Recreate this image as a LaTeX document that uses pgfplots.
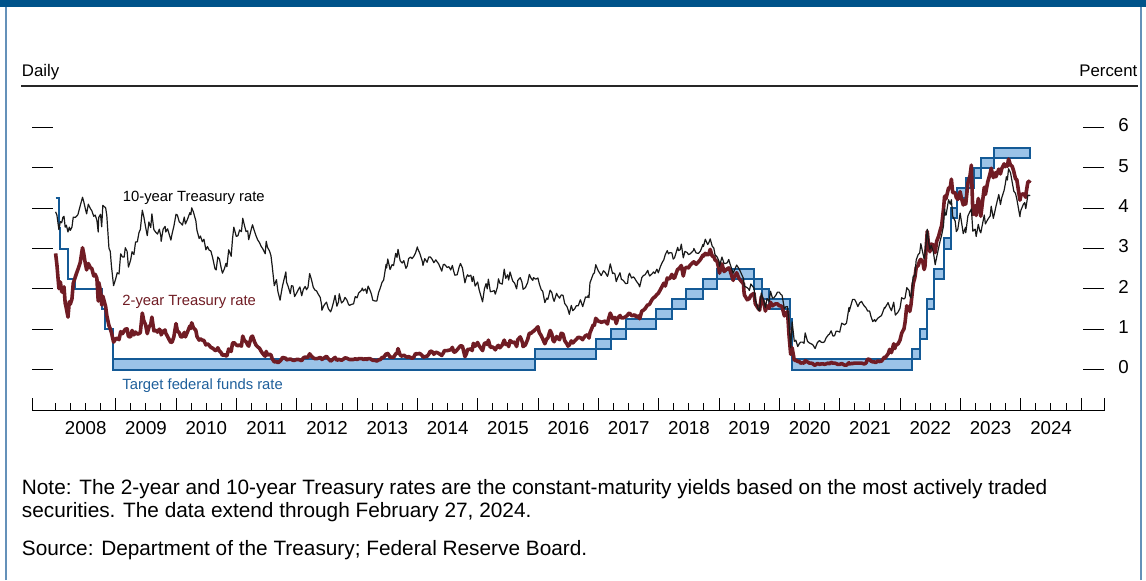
\documentclass[border=0pt]{standalone}
\usepackage{pgfplots}
\pgfplotsset{compat=1.18}
\usepgfplotslibrary{dateplot}
\usepackage{pgfplotstable}
\usepackage{fontspec}
\setmainfont{Liberation Sans}

\definecolor{topbar}{RGB}{0,83,138}
\definecolor{frame}{RGB}{100,145,185}
\definecolor{boxfill}{RGB}{155,195,232}
\definecolor{boxedge}{RGB}{20,90,150}
\definecolor{twored}{RGB}{112,28,36}
\definecolor{lblblue}{RGB}{30,95,155}

% daily Treasury yields, sampled roughly every ten days
\pgfplotstableread{
date ten two
2008-01-02 3.91 2.88
2008-01-10 3.83 2.60
2008-01-22 3.47 2.01
2008-01-31 3.67 2.17
2008-02-08 3.64 1.93
2008-02-15 3.77 1.92
2008-02-22 3.80 2.05
2008-02-29 3.53 1.65
2008-03-07 3.58 1.52
2008-03-17 3.41 1.30
2008-03-25 3.53 1.68
2008-03-31 3.45 1.62
2008-04-10 3.53 1.75
2008-04-18 3.78 2.14
2008-04-30 3.77 2.29
2008-05-08 3.80 2.39
2008-05-16 3.84 2.48
2008-05-30 4.06 2.65
2008-06-13 4.27 3.02
2008-06-20 4.17 2.88
2008-06-30 3.99 2.63
2008-07-08 3.86 2.47
2008-07-18 4.10 2.63
2008-07-31 3.99 2.52
2008-08-08 3.94 2.51
2008-08-20 3.80 2.32
2008-08-29 3.83 2.36
2008-09-08 3.70 2.26
2008-09-16 3.41 1.70
2008-09-19 3.77 2.16
2008-09-30 3.85 1.96
2008-10-07 3.54 1.60
2008-10-14 4.07 1.82
2008-10-31 4.01 1.56
2008-11-07 3.82 1.34
2008-11-20 3.01 1.09
2008-11-28 2.93 1.01
2008-12-05 2.57 0.92
2008-12-18 2.08 0.68
2008-12-31 2.25 0.76
2009-01-09 2.40 0.78
2009-01-20 2.37 0.74
2009-01-30 2.87 0.94
2009-02-10 2.79 0.89
2009-02-20 2.79 0.96
2009-02-27 3.02 1.00
2009-03-10 2.93 1.01
2009-03-18 2.54 0.82
2009-03-31 2.71 0.81
2009-04-09 2.92 0.97
2009-04-20 2.85 0.86
2009-04-30 3.16 0.93
2009-05-11 3.17 0.88
2009-05-21 3.40 0.89
2009-05-29 3.47 0.92
2009-06-10 3.95 1.40
2009-06-19 3.79 1.21
2009-06-30 3.53 1.11
2009-07-10 3.32 0.89
2009-07-20 3.66 1.05
2009-07-31 3.52 1.12
2009-08-07 3.86 1.30
2009-08-19 3.47 0.96
2009-08-31 3.40 0.97
2009-09-10 3.36 0.93
2009-09-21 3.48 1.00
2009-09-30 3.31 0.95
2009-10-02 3.18 0.86
2009-10-14 3.48 0.95
2009-10-26 3.55 0.98
2009-10-30 3.41 0.90
2009-11-10 3.49 0.82
2009-11-25 3.28 0.70
2009-11-30 3.21 0.67
2009-12-08 3.38 0.69
2009-12-18 3.55 0.81
2009-12-31 3.85 1.14
2010-01-08 3.83 0.96
2010-01-20 3.66 0.91
2010-01-29 3.63 0.81
2010-02-08 3.58 0.81
2010-02-19 3.78 0.92
2010-02-26 3.61 0.81
2010-03-10 3.72 0.93
2010-03-25 3.89 1.08
2010-03-31 3.84 1.02
2010-04-05 4.01 1.16
2010-04-15 3.91 1.04
2010-04-30 3.69 0.97
2010-05-07 3.45 0.82
2010-05-20 3.25 0.73
2010-05-28 3.31 0.76
2010-06-08 3.17 0.73
2010-06-18 3.23 0.72
2010-06-30 2.97 0.61
2010-07-09 3.05 0.64
2010-07-20 2.96 0.60
2010-07-30 2.94 0.55
2010-08-10 2.77 0.53
2010-08-24 2.50 0.48
2010-08-31 2.47 0.47
2010-09-10 2.79 0.54
2010-09-20 2.74 0.46
2010-09-30 2.53 0.42
2010-10-08 2.39 0.35
2010-10-20 2.50 0.37
2010-10-29 2.63 0.34
2010-11-04 2.55 0.34
2010-11-15 2.97 0.51
2010-11-30 2.81 0.45
2010-12-08 3.24 0.65
2010-12-16 3.53 0.67
2010-12-31 3.30 0.61
2011-01-10 3.32 0.59
2011-01-20 3.46 0.61
2011-01-31 3.42 0.58
2011-02-08 3.75 0.83
2011-02-18 3.58 0.72
2011-02-28 3.42 0.69
2011-03-10 3.44 0.61
2011-03-16 3.22 0.58
2011-03-31 3.47 0.80
2011-04-08 3.59 0.83
2011-04-20 3.43 0.69
2011-04-29 3.32 0.61
2011-05-10 3.21 0.56
2011-05-20 3.15 0.53
2011-05-31 3.05 0.45
2011-06-10 2.99 0.39
2011-06-24 2.87 0.33
2011-06-30 3.18 0.45
2011-07-08 3.03 0.36
2011-07-20 2.94 0.38
2011-07-29 2.82 0.36
2011-08-05 2.58 0.27
2011-08-18 2.08 0.19
2011-08-31 2.23 0.20
2011-09-09 1.93 0.17
2011-09-22 1.72 0.21
2011-09-30 1.92 0.25
2011-10-07 2.08 0.30
2011-10-27 2.42 0.28
2011-10-31 2.17 0.24
2011-11-10 2.06 0.25
2011-11-23 1.88 0.26
2011-11-30 2.08 0.25
2011-12-09 2.07 0.23
2011-12-19 1.81 0.23
2011-12-30 1.89 0.25
2012-01-10 1.98 0.25
2012-01-20 2.05 0.24
2012-01-31 1.83 0.22
2012-02-10 1.99 0.29
2012-02-21 2.06 0.31
2012-02-29 1.98 0.30
2012-03-09 2.04 0.31
2012-03-19 2.38 0.39
2012-03-30 2.23 0.33
2012-04-10 2.04 0.29
2012-04-20 1.97 0.27
2012-04-30 1.95 0.27
2012-05-10 1.87 0.28
2012-05-22 1.79 0.30
2012-05-31 1.59 0.27
2012-06-01 1.47 0.25
2012-06-15 1.60 0.29
2012-06-29 1.67 0.33
2012-07-10 1.51 0.27
2012-07-24 1.43 0.21
2012-07-31 1.51 0.23
2012-08-10 1.66 0.27
2012-08-20 1.84 0.30
2012-08-31 1.57 0.23
2012-09-10 1.68 0.25
2012-09-14 1.88 0.25
2012-09-28 1.65 0.23
2012-10-10 1.70 0.26
2012-10-19 1.79 0.29
2012-10-31 1.72 0.28
2012-11-09 1.62 0.26
2012-11-15 1.59 0.25
2012-11-30 1.62 0.25
2012-12-10 1.63 0.25
2012-12-20 1.81 0.27
2012-12-31 1.78 0.25
2013-01-10 1.90 0.27
2013-01-28 1.97 0.27
2013-01-31 2.02 0.27
2013-02-08 1.95 0.25
2013-02-20 2.00 0.27
2013-02-28 1.89 0.25
2013-03-08 2.07 0.27
2013-03-20 1.96 0.27
2013-03-28 1.87 0.25
2013-04-05 1.72 0.23
2013-04-18 1.70 0.23
2013-04-30 1.70 0.21
2013-05-10 1.90 0.24
2013-05-22 2.04 0.25
2013-05-31 2.16 0.30
2013-06-10 2.22 0.30
2013-06-25 2.61 0.39
2013-06-28 2.52 0.36
2013-07-05 2.74 0.40
2013-07-19 2.48 0.31
2013-07-31 2.60 0.31
2013-08-09 2.58 0.30
2013-08-22 2.88 0.39
2013-08-30 2.78 0.40
2013-09-05 2.98 0.52
2013-09-18 2.70 0.36
2013-09-30 2.64 0.33
2013-10-10 2.70 0.36
2013-10-23 2.51 0.32
2013-10-31 2.57 0.31
2013-11-08 2.75 0.32
2013-11-20 2.79 0.30
2013-11-29 2.75 0.28
2013-12-10 2.81 0.31
2013-12-20 2.89 0.40
2013-12-31 3.04 0.38
2014-01-02 3.00 0.39
2014-01-15 2.88 0.40
2014-01-31 2.67 0.34
2014-02-03 2.58 0.31
2014-02-14 2.75 0.32
2014-02-28 2.66 0.33
2014-03-10 2.79 0.38
2014-03-20 2.79 0.46
2014-03-31 2.73 0.44
2014-04-10 2.65 0.38
2014-04-22 2.72 0.43
2014-04-30 2.67 0.42
2014-05-09 2.62 0.40
2014-05-28 2.44 0.35
2014-05-30 2.48 0.37
2014-06-06 2.60 0.41
2014-06-13 2.61 0.47
2014-06-30 2.53 0.47
2014-07-10 2.55 0.48
2014-07-21 2.47 0.49
2014-07-31 2.58 0.55
2014-08-08 2.44 0.44
2014-08-15 2.34 0.43
2014-08-29 2.35 0.49
2014-09-10 2.54 0.55
2014-09-18 2.63 0.59
2014-09-30 2.52 0.58
2014-10-15 2.15 0.32
2014-10-24 2.29 0.39
2014-10-31 2.35 0.50
2014-11-07 2.31 0.50
2014-11-20 2.34 0.51
2014-11-28 2.18 0.47
2014-12-05 2.31 0.65
2014-12-16 2.07 0.58
2014-12-31 2.17 0.67
2015-01-09 1.98 0.59
2015-01-30 1.68 0.47
2015-02-10 2.00 0.65
2015-02-20 2.13 0.66
2015-02-27 2.00 0.62
2015-03-06 2.24 0.73
2015-03-18 1.93 0.55
2015-03-31 1.94 0.56
2015-04-10 1.96 0.53
2015-04-17 1.87 0.49
2015-04-30 2.05 0.58
2015-05-06 2.25 0.60
2015-05-15 2.14 0.54
2015-05-29 2.12 0.61
2015-06-10 2.49 0.73
2015-06-19 2.26 0.62
2015-06-30 2.35 0.64
2015-07-07 2.22 0.57
2015-07-15 2.42 0.72
2015-07-31 2.20 0.67
2015-08-12 2.14 0.68
2015-08-24 2.00 0.57
2015-08-31 2.21 0.74
2015-09-15 2.28 0.81
2015-09-25 2.17 0.71
2015-09-30 2.06 0.64
2015-10-02 1.99 0.57
2015-10-16 2.03 0.61
2015-10-30 2.16 0.75
2015-11-09 2.36 0.90
2015-11-20 2.26 0.90
2015-11-30 2.21 0.94
2015-12-04 2.28 0.95
2015-12-17 2.24 1.00
2015-12-31 2.27 1.06
2016-01-08 2.13 0.92
2016-01-20 1.98 0.84
2016-01-29 1.94 0.76
2016-02-11 1.66 0.64
2016-02-22 1.77 0.76
2016-02-29 1.74 0.78
2016-03-14 1.97 0.97
2016-03-24 1.91 0.88
2016-03-31 1.78 0.73
2016-04-07 1.69 0.69
2016-04-22 1.89 0.82
2016-04-29 1.83 0.78
2016-05-10 1.77 0.74
2016-05-20 1.85 0.90
2016-05-31 1.84 0.88
2016-06-10 1.64 0.72
2016-06-24 1.56 0.63
2016-06-30 1.49 0.58
2016-07-08 1.37 0.61
2016-07-20 1.59 0.71
2016-07-29 1.46 0.66
2016-08-10 1.51 0.71
2016-08-19 1.58 0.75
2016-08-31 1.58 0.80
2016-09-13 1.73 0.79
2016-09-27 1.56 0.74
2016-09-30 1.60 0.77
2016-10-14 1.80 0.84
2016-10-26 1.79 0.86
2016-10-31 1.84 0.84
2016-11-04 1.78 0.78
2016-11-10 2.15 0.91
2016-11-30 2.37 1.11
2016-12-07 2.40 1.10
2016-12-15 2.60 1.27
2016-12-30 2.45 1.20
2017-01-10 2.38 1.19
2017-01-17 2.33 1.17
2017-01-31 2.45 1.19
2017-02-10 2.41 1.20
2017-02-24 2.31 1.13
2017-02-28 2.36 1.22
2017-03-13 2.62 1.40
2017-03-27 2.38 1.26
2017-03-31 2.40 1.27
2017-04-10 2.37 1.29
2017-04-18 2.18 1.14
2017-04-28 2.29 1.28
2017-05-11 2.40 1.34
2017-05-19 2.24 1.28
2017-05-31 2.21 1.28
2017-06-14 2.13 1.31
2017-06-26 2.14 1.35
2017-06-30 2.31 1.38
2017-07-07 2.39 1.40
2017-07-20 2.27 1.34
2017-07-31 2.30 1.34
2017-08-08 2.26 1.36
2017-08-18 2.19 1.30
2017-08-31 2.12 1.33
2017-09-07 2.05 1.26
2017-09-20 2.28 1.45
2017-09-29 2.33 1.47
2017-10-10 2.35 1.51
2017-10-26 2.46 1.61
2017-10-31 2.38 1.60
2017-11-07 2.32 1.63
2017-11-20 2.37 1.73
2017-11-30 2.42 1.78
2017-12-08 2.38 1.80
2017-12-20 2.49 1.86
2017-12-29 2.40 1.89
2018-01-10 2.55 1.98
2018-01-22 2.66 2.07
2018-01-31 2.72 2.14
2018-02-09 2.85 2.07
2018-02-21 2.95 2.27
2018-02-28 2.87 2.25
2018-03-09 2.90 2.26
2018-03-21 2.89 2.36
2018-03-29 2.74 2.27
2018-04-06 2.77 2.27
2018-04-25 3.03 2.49
2018-04-30 2.95 2.49
2018-05-10 2.97 2.54
2018-05-17 3.11 2.58
2018-05-29 2.77 2.32
2018-06-08 2.93 2.51
2018-06-22 2.90 2.54
2018-06-29 2.85 2.52
2018-07-10 2.87 2.59
2018-07-31 2.96 2.67
2018-08-01 3.00 2.67
2018-08-15 2.89 2.61
2018-08-29 2.88 2.67
2018-09-10 2.94 2.73
2018-09-25 3.10 2.84
2018-09-28 3.05 2.81
2018-10-09 3.23 2.88
2018-10-24 3.10 2.84
2018-10-31 3.15 2.87
2018-11-08 3.24 2.98
2018-11-20 3.06 2.81
2018-11-30 3.01 2.80
2018-12-07 2.85 2.72
2018-12-20 2.79 2.68
2018-12-31 2.69 2.48
2019-01-03 2.56 2.39
2019-01-18 2.79 2.62
2019-01-31 2.63 2.43
2019-02-08 2.63 2.46
2019-02-20 2.65 2.50
2019-02-28 2.73 2.52
2019-03-08 2.62 2.46
2019-03-27 2.39 2.21
2019-03-29 2.41 2.27
2019-04-17 2.59 2.40
2019-04-30 2.51 2.27
2019-05-13 2.40 2.20
2019-05-29 2.25 2.12
2019-05-31 2.14 1.95
2019-06-03 2.07 1.85
2019-06-20 2.03 1.73
2019-06-28 2.00 1.75
2019-07-03 1.96 1.76
2019-07-12 2.12 1.84
2019-07-31 2.02 1.89
2019-08-08 1.72 1.63
2019-08-28 1.47 1.50
2019-08-30 1.50 1.50
2019-09-03 1.47 1.47
2019-09-13 1.90 1.80
2019-09-30 1.68 1.63
2019-10-08 1.54 1.45
2019-10-18 1.76 1.58
2019-10-31 1.69 1.52
2019-11-08 1.94 1.67
2019-11-20 1.77 1.58
2019-11-29 1.78 1.61
2019-12-10 1.84 1.63
2019-12-20 1.92 1.63
2019-12-31 1.92 1.58
2020-01-08 1.87 1.58
2020-01-17 1.84 1.56
2020-01-31 1.51 1.33
2020-02-10 1.56 1.39
2020-02-19 1.56 1.44
2020-02-28 1.13 0.86
2020-03-09 0.54 0.38
2020-03-18 1.18 0.54
2020-03-31 0.70 0.23
2020-04-09 0.73 0.23
2020-04-21 0.57 0.20
2020-04-30 0.64 0.20
2020-05-08 0.68 0.16
2020-05-20 0.68 0.17
2020-05-29 0.65 0.16
2020-06-05 0.91 0.22
2020-06-19 0.70 0.19
2020-06-30 0.66 0.16
2020-07-10 0.64 0.16
2020-07-20 0.62 0.15
2020-07-31 0.55 0.11
2020-08-04 0.52 0.11
2020-08-18 0.67 0.15
2020-08-31 0.72 0.13
2020-09-10 0.68 0.14
2020-09-21 0.67 0.14
2020-09-30 0.69 0.13
2020-10-09 0.78 0.14
2020-10-23 0.86 0.16
2020-10-30 0.88 0.14
2020-11-09 0.96 0.18
2020-11-20 0.83 0.16
2020-11-30 0.84 0.16
2020-12-09 0.95 0.15
2020-12-18 0.95 0.13
2020-12-31 0.93 0.13
2021-01-12 1.15 0.15
2021-01-29 1.11 0.11
2021-02-10 1.15 0.11
2021-02-25 1.54 0.17
2021-02-26 1.44 0.14
2021-03-12 1.64 0.15
2021-03-19 1.74 0.15
2021-03-31 1.74 0.16
2021-04-09 1.67 0.16
2021-04-20 1.56 0.16
2021-04-30 1.65 0.16
2021-05-12 1.69 0.16
2021-05-20 1.63 0.15
2021-05-28 1.58 0.14
2021-06-08 1.53 0.16
2021-06-18 1.45 0.26
2021-06-30 1.45 0.25
2021-07-08 1.32 0.21
2021-07-19 1.19 0.19
2021-07-30 1.24 0.19
2021-08-04 1.19 0.17
2021-08-18 1.27 0.21
2021-08-31 1.31 0.20
2021-09-10 1.34 0.21
2021-09-28 1.54 0.31
2021-09-30 1.52 0.28
2021-10-20 1.66 0.39
2021-10-29 1.55 0.50
2021-11-09 1.46 0.42
2021-11-23 1.67 0.64
2021-11-30 1.43 0.52
2021-12-03 1.35 0.59
2021-12-20 1.43 0.64
2021-12-31 1.52 0.73
2022-01-10 1.78 0.90
2022-01-24 1.75 1.01
2022-01-31 1.78 1.18
2022-02-10 2.03 1.58
2022-02-24 1.96 1.52
2022-02-28 1.83 1.44
2022-03-07 1.78 1.59
2022-03-21 2.32 2.13
2022-03-31 2.32 2.28
2022-04-08 2.72 2.53
2022-04-20 2.85 2.58
2022-04-29 2.89 2.70
2022-05-06 3.12 2.73
2022-05-18 2.89 2.67
2022-05-26 2.75 2.48
2022-05-31 2.85 2.56
2022-06-14 3.48 3.43
2022-06-22 3.16 3.07
2022-06-30 2.98 2.92
2022-07-08 3.08 3.11
2022-07-21 2.91 3.09
2022-08-01 2.60 2.90
2022-08-10 2.79 3.18
2022-08-22 3.02 3.31
2022-08-31 3.19 3.45
2022-09-09 3.33 3.57
2022-09-20 3.56 3.97
2022-09-27 3.98 4.30
2022-09-30 3.83 4.22
2022-10-06 3.83 4.25
2022-10-21 4.21 4.50
2022-10-31 4.10 4.51
2022-11-07 4.21 4.72
2022-11-15 3.80 4.39
2022-11-30 3.68 4.38
2022-12-07 3.42 4.26
2022-12-16 3.48 4.22
2022-12-30 3.88 4.41
2023-01-06 3.69 4.26
2023-01-18 3.37 4.08
2023-01-31 3.52 4.21
2023-02-02 3.39 4.10
2023-02-15 3.81 4.62
2023-02-28 3.92 4.81
2023-03-08 3.98 5.07
2023-03-17 3.43 3.84
2023-03-31 3.48 4.06
2023-04-06 3.30 3.82
2023-04-19 3.60 4.24
2023-04-28 3.44 4.04
2023-05-04 3.39 3.80
2023-05-25 3.83 4.52
2023-05-31 3.64 4.40
2023-06-01 3.61 4.34
2023-06-15 3.72 4.65
2023-06-30 3.81 4.87
2023-07-06 4.05 4.99
2023-07-19 3.75 4.76
2023-07-31 3.97 4.88
2023-08-04 4.05 4.78
2023-08-21 4.34 4.97
2023-08-31 4.09 4.85
2023-09-08 4.26 4.98
2023-09-22 4.44 5.10
2023-09-29 4.59 5.03
2023-10-06 4.78 5.08
2023-10-12 4.70 5.04
2023-10-19 4.98 5.22
2023-10-31 4.88 5.07
2023-11-10 4.65 5.04
2023-11-20 4.42 4.91
2023-11-30 4.37 4.73
2023-12-08 4.23 4.71
2023-12-27 3.79 4.20
2023-12-29 3.88 4.23
2024-01-02 3.95 4.33
2024-01-17 4.10 4.36
2024-01-25 4.14 4.32
2024-01-31 3.99 4.27
2024-02-02 4.03 4.37
2024-02-13 4.32 4.65
2024-02-21 4.32 4.66
2024-02-27 4.31 4.69
}\yields

\begin{document}
\begin{tikzpicture}
\begin{scope}[x=0.5pt,y=0.5pt]
\useasboundingbox (0,0) rectangle (1146,580);
\fill[topbar] (0,573) rectangle (1146,580);
\draw[frame, line width=1pt] (5.5,0) -- (5.5,573);
\draw[frame, line width=1pt] (1140.5,0) -- (1140.5,573);

\node[anchor=base west, inner sep=0pt, font=\fontsize{8.4pt}{10pt}\selectfont] at (21.5,503) {Daily};
\node[anchor=base east, inner sep=0pt, font=\fontsize{8.4pt}{10pt}\selectfont] at (1137.7,503) {Percent};
\draw[black!85, line width=0.6pt] (21,494) -- (1138,494);
\end{scope}

\begin{axis}[
    at={(16.15pt,84.65pt)}, anchor=south west,
    width=535.85pt, height=162.35pt, scale only axis,
    date coordinates in=x, date ZERO=2008-01-01,
    xmin=2007-08-14, xmax=2025-05-19,
    ymin=-1.02, ymax=7.03,
    separate axis lines, axis line style={draw=none},
    tick align=inside,
    xtick pos=left, ytick pos=both, yticklabel pos=right,
    major tick length=6.5pt, minor tick length=3.7pt,
    tick style={black, line width=0.5pt},
    tick label style={font=\fontsize{9.35pt}{11pt}\selectfont},
    xtick={2009-01-01,2010-01-01,2011-01-01,2012-01-01,2013-01-01,2014-01-01,
           2015-01-01,2016-01-01,2017-01-01,2018-01-01,2019-01-01,2020-01-01,
           2021-01-01,2022-01-01,2023-01-01,2024-01-01,2025-01-01},
    xticklabels={2008,2009,2010,2011,2012,2013,2014,2015,2016,2017,2018,2019,2020,2021,2022,2023,2024},
    xticklabel style={anchor=north, inner sep=0pt, yshift=-5.15pt, xshift=-15.08pt},
    minor xtick={2008-01-01,
      2008-04-01,2008-07-01,2008-10-01,2009-04-01,2009-07-01,2009-10-01,
      2010-04-01,2010-07-01,2010-10-01,2011-04-01,2011-07-01,2011-10-01,
      2012-04-01,2012-07-01,2012-10-01,2013-04-01,2013-07-01,2013-10-01,
      2014-04-01,2014-07-01,2014-10-01,2015-04-01,2015-07-01,2015-10-01,
      2016-04-01,2016-07-01,2016-10-01,2017-04-01,2017-07-01,2017-10-01,
      2018-04-01,2018-07-01,2018-10-01,2019-04-01,2019-07-01,2019-10-01,
      2020-04-01,2020-07-01,2020-10-01,2021-04-01,2021-07-01,2021-10-01,
      2022-04-01,2022-07-01,2022-10-01,2023-04-01,2023-07-01,2023-10-01,
      2024-04-01,2024-07-01,2024-10-01},
    extra x ticks={2007-08-14,2025-05-19},
    extra x tick labels={,},
    ytick=\empty,
    extra y ticks={0,1,2,3,4,5,6},
    extra y tick labels={0,1,2,3,4,5,6},
    extra y tick style={major tick length=10.5pt},
    yticklabel style={anchor=west, inner sep=0pt, xshift=7pt, yshift=1pt},
    clip=false,
]
\draw[black, line width=0.6pt] (rel axis cs:0,0) -- (rel axis cs:1,0);

% target federal funds range (from Dec 2008)
\addplot[draw=boxedge, line width=1pt, fill=boxfill, line join=miter] coordinates {
(2008-12-16,0.25) (2015-12-16,0.25) (2015-12-16,0.5) (2016-12-14,0.5) (2016-12-14,0.75)
(2017-03-15,0.75) (2017-03-15,1) (2017-06-14,1) (2017-06-14,1.25) (2017-12-13,1.25)
(2017-12-13,1.5) (2018-03-21,1.5) (2018-03-21,1.75) (2018-06-13,1.75) (2018-06-13,2)
(2018-09-26,2) (2018-09-26,2.25) (2018-12-19,2.25) (2018-12-19,2.5) (2019-07-31,2.5)
(2019-07-31,2.25) (2019-09-18,2.25) (2019-09-18,2) (2019-10-30,2) (2019-10-30,1.75)
(2020-03-03,1.75) (2020-03-03,1.25) (2020-03-15,1.25) (2020-03-15,0.25) (2022-03-16,0.25)
(2022-03-16,0.5) (2022-05-04,0.5) (2022-05-04,1) (2022-06-15,1) (2022-06-15,1.75)
(2022-07-27,1.75) (2022-07-27,2.5) (2022-09-21,2.5) (2022-09-21,3.25) (2022-11-02,3.25)
(2022-11-02,4) (2022-12-14,4) (2022-12-14,4.5) (2023-02-01,4.5) (2023-02-01,4.75)
(2023-03-22,4.75) (2023-03-22,5) (2023-05-03,5) (2023-05-03,5.25) (2023-07-26,5.25)
(2023-07-26,5.5) (2024-02-27,5.5)
(2024-02-27,5.25) (2023-07-26,5.25) (2023-07-26,5) (2023-05-03,5) (2023-05-03,4.75)
(2023-03-22,4.75) (2023-03-22,4.5) (2023-02-01,4.5) (2023-02-01,4.25) (2022-12-14,4.25)
(2022-12-14,3.75) (2022-11-02,3.75) (2022-11-02,3) (2022-09-21,3) (2022-09-21,2.25)
(2022-07-27,2.25) (2022-07-27,1.5) (2022-06-15,1.5) (2022-06-15,0.75) (2022-05-04,0.75)
(2022-05-04,0.25) (2022-03-16,0.25) (2022-03-16,0) (2020-03-15,0) (2020-03-15,1)
(2020-03-03,1) (2020-03-03,1.5) (2019-10-30,1.5) (2019-10-30,1.75) (2019-09-18,1.75)
(2019-09-18,2) (2019-07-31,2) (2019-07-31,2.25) (2018-12-19,2.25) (2018-12-19,2)
(2018-09-26,2) (2018-09-26,1.75) (2018-06-13,1.75) (2018-06-13,1.5) (2018-03-21,1.5)
(2018-03-21,1.25) (2017-12-13,1.25) (2017-12-13,1) (2017-06-14,1) (2017-06-14,0.75)
(2017-03-15,0.75) (2017-03-15,0.5) (2016-12-14,0.5) (2016-12-14,0.25) (2015-12-16,0.25)
(2015-12-16,0) (2008-12-16,0)
} -- cycle;

% single target rate in 2008
\addplot[boxedge, line width=1pt, const plot mark left, no markers] coordinates {
(2008-01-02,4.25) (2008-01-22,3.5) (2008-01-30,3.0) (2008-03-18,2.25) (2008-04-30,2.0)
(2008-10-08,1.5) (2008-10-29,1.0) (2008-12-16,0.25)
};

\addplot[twored, line width=1.8pt, line join=round, no markers] table[x=date, y=two] {\yields};
\addplot[black!90, line width=0.6pt, line join=round, no markers] table[x=date, y=ten] {\yields};
\end{axis}

\begin{scope}[x=0.5pt,y=0.5pt]
\node[anchor=base west, inner sep=0pt, font=\fontsize{7.4pt}{9pt}\selectfont] at (122.5,379) {10-year Treasury rate};
\node[anchor=base west, inner sep=0pt, text=twored, font=\fontsize{7.4pt}{9pt}\selectfont] at (122,274.5) {2-year Treasury rate};
\node[anchor=base west, inner sep=0pt, text=lblblue, font=\fontsize{7.4pt}{9pt}\selectfont] at (122,191) {Target federal funds rate};

\node[anchor=base west, inner sep=0pt, font=\fontsize{10.4pt}{12pt}\selectfont] at (21.5,86) {Note: The 2-year and 10-year Treasury rates are the constant-maturity yields based on the most actively traded};
\node[anchor=base west, inner sep=0pt, font=\fontsize{10.4pt}{12pt}\selectfont] at (21.5,63) {securities. The data extend through February 27, 2024.};
\node[anchor=base west, inner sep=0pt, font=\fontsize{10.4pt}{12pt}\selectfont] at (21.5,25) {Source: Department of the Treasury; Federal Reserve Board.};
\end{scope}
\end{tikzpicture}
\end{document}
